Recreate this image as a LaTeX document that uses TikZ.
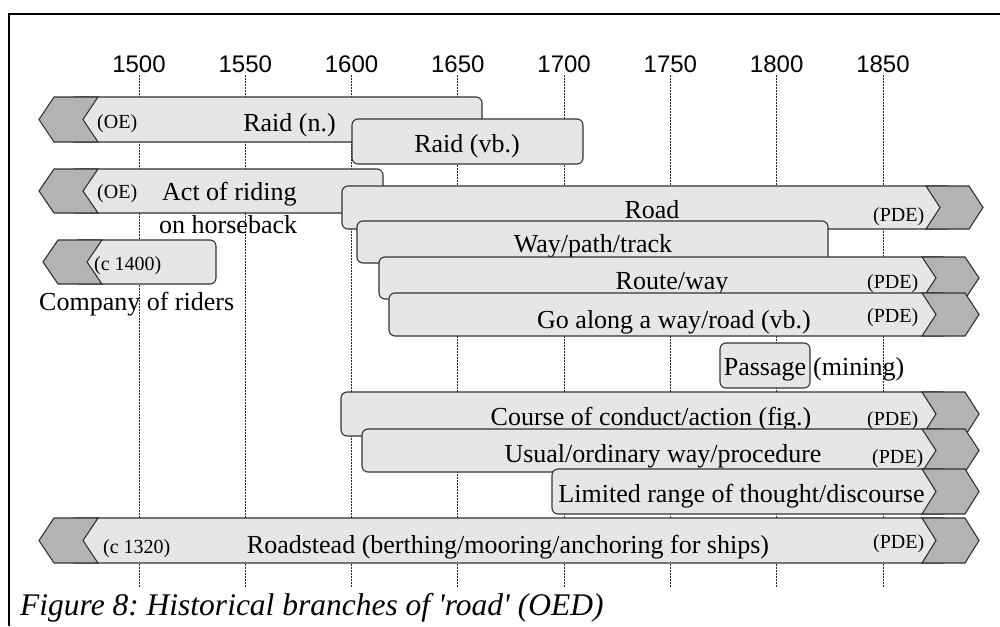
\documentclass[tikz,border=0pt]{standalone}
\usepackage{fontspec}
\setmainfont{Liberation Serif}
\newfontfamily\axisfont{Liberation Sans}
\usepackage{tikz}
\usetikzlibrary{positioning}
\usepackage{xcolor}
\definecolor{barlight}{HTML}{E6E6E6}
\definecolor{bardark}{HTML}{B3B3B3}
\definecolor{barline}{HTML}{333333}
\frenchspacing

% bar pieces: chevrons and rounded bodies
\newcommand{\chevleft}[3]{% tip x, top y, bottom y
  \filldraw[barpen,fill=bardark] (#1,{(#2+#3)/2}) -- (#1+15,#2) -- (#1+59,#2) -- (#1+44,{(#2+#3)/2}) -- (#1+59,#3) -- (#1+15,#3) -- cycle;}
\newcommand{\chevright}[3]{% tip x, top y, bottom y
  \filldraw[barpen,fill=bardark] (#1,{(#2+#3)/2}) -- (#1-14,#2) -- (#1-57,#2) -- (#1-43,{(#2+#3)/2}) -- (#1-57,#3) -- (#1-14,#3) -- cycle;}
\newcommand{\barbody}[4]{% left x, right x, top y, bottom y
  \filldraw[barpen,fill=barlight,rounded corners=6pt] (#1,#3) rectangle (#2,#4);}
\newcommand{\barleft}[4]{\barbody{#1+30}{#2}{#3}{#4}\chevleft{#1}{#3}{#4}}
\newcommand{\barright}[4]{\barbody{#1}{#2-30}{#3}{#4}\chevright{#2}{#3}{#4}}
\newcommand{\barboth}[4]{\barbody{#1+30}{#2-30}{#3}{#4}\chevleft{#1}{#3}{#4}\chevright{#2}{#3}{#4}}

\begin{document}
\begin{tikzpicture}[x=1pt,y=-1pt,
  barpen/.style={draw=barline,line width=1.1pt},
  grid/.style={black!85,line width=0.7pt,dash pattern=on 1.6pt off 1.4pt},
  sense/.style={inner sep=0pt,font=\fontsize{26}{31}\selectfont},
  src/.style={inner sep=0pt,font=\fontsize{20}{24}\selectfont},
  yr/.style={inner sep=0pt,font=\axisfont\fontsize{24}{28}\selectfont},
  figcaption/.style={inner sep=0pt,font=\itshape\fontsize{31.5}{36}\selectfont}]
\useasboundingbox (0,0) rectangle (1000,626);
\fill[white] (0,0) rectangle (1000,626);
% frame
\draw[line width=1.2pt] (9,626) -- (9,14) -- (1000,14);
% time axis
\foreach \lab [count=\i from 0] in {1500,1550,1600,1650,1700,1750,1800,1850} {
  \draw[grid] (139+106.28*\i,75) -- (139+106.28*\i,587);
  \node[yr,anchor=base] (yr\lab) at (139+106.28*\i,72) {\lab};
}
% BAR 1: raid (n.), from OE
\barleft{39}{482}{97}{142}
\node[src,anchor=base west] (oe1) at (97,128.5) {(OE)};
\node[sense,anchor=base] (raidn) at (289.5,131) {Raid (n.)};
% BAR 2: raid (vb.)
\barbody{352}{583}{119}{164}
\node[sense,anchor=base] (raidvb) at (467,152) {Raid (vb.)};
% BAR 3: act of riding, from OE
\barleft{39}{383}{169}{213}
\node[src,anchor=base west] (oe2) at (97,198) {(OE)};
\node[sense,anchor=base west] (riding) at (162,200) {Act of riding};
\node[sense,anchor=base west] (horse) at (159,233) {on horseback};
% BAR 4: company of riders, c 1400
\barleft{43}{216}{240}{284}
\node[src,anchor=base west] (c1400) at (94,270) {(c 1400)};
\node[sense,anchor=base west] (company) at (39,310) {Company of riders};
% BAR 5: road, to PDE
\barright{342}{983}{186}{229}
\node[sense,anchor=base] (road) at (652,218) {Road};
\node[src,anchor=base west] (pde1) at (873,221) {(PDE)};
% BAR 6: way/path/track
\barbody{357}{828}{221}{263}
\node[sense,anchor=base] (way) at (593,252) {Way/path/track};
% BAR 7: route/way
\barright{379}{979}{257}{299}
\node[sense,anchor=base] (route) at (672,289) {Route/way};
\node[src,anchor=base west] (pde2) at (867,288) {(PDE)};
% BAR 8: go along (vb.)
\barright{389}{979}{293}{336}
\node[sense,anchor=base] (goalong) at (674,328) {Go along a way/road (vb.)};
\node[src,anchor=base west] (pde3) at (867,322) {(PDE)};
% BAR 9: passage (mining)
\barbody{720}{810}{343}{388}
\node[sense,anchor=base] (passage) at (765,375) {Passage};
\node[sense,anchor=base west] (mining) at (813,375) {(mining)};
% BAR 10: course of conduct
\barright{341}{979}{392}{436}
\node[sense,anchor=base] (course) at (651,425) {Course of conduct/action (fig.)};
\node[src,anchor=base west] (pde4) at (867,425) {(PDE)};
% BAR 11: usual way
\barright{362}{979}{429}{472}
\node[sense,anchor=base] (usual) at (663,462) {Usual/ordinary way/procedure};
\node[src,anchor=base west] (pde5) at (872,463) {(PDE)};
% BAR 12: limited range
\barright{552}{979}{469}{514}
\node[sense,anchor=base] (limited) at (741.5,502) {Limited range of thought/discourse};
% BAR 13: roadstead, c 1320 to PDE
\barboth{39}{979}{518}{563}
\node[src,anchor=base west] (c1320) at (103,553) {(c 1320)};
\node[sense,anchor=base] (roadstead) at (508,553) {Roadstead (berthing/mooring/anchoring for ships)};
\node[src,anchor=base west] (pde6) at (873,548) {(PDE)};
% caption
\node[figcaption,anchor=base west] (caption) at (20,615) {Figure 8: Historical branches of \textquotesingle road\textquotesingle\ (OED)};
\end{tikzpicture}
\end{document}
